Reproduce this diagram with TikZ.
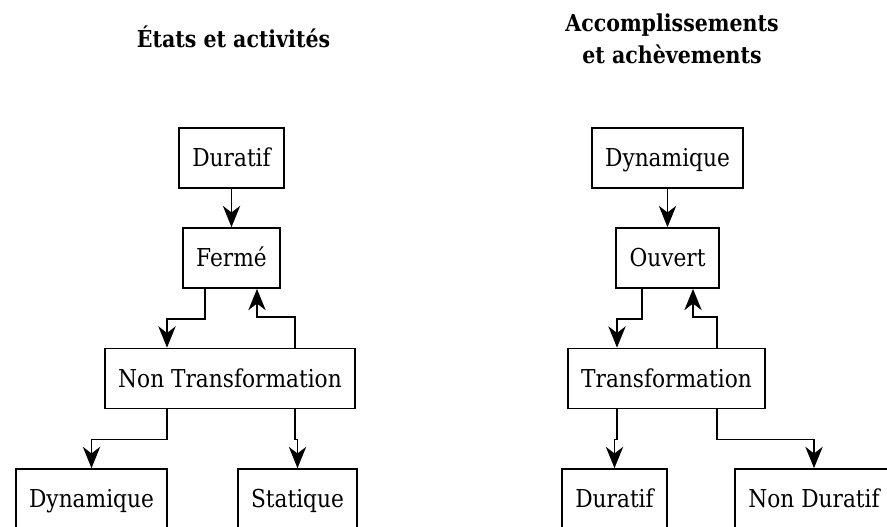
\documentclass[tikz,border=0pt]{standalone}
\usepackage{fontspec}
\setmainfont[FakeStretch=0.88]{DejaVu Serif}
\usepackage{tikz}
\usetikzlibrary{arrows.meta,positioning,calc}
\tikzstyle{box}=[rectangle, draw=black, line width=1.3pt, inner xsep=10pt, minimum height=45pt, text height=13.2pt, text depth=0pt, font=\fontsize{18.5}{22}\selectfont]
\tikzstyle{titre}=[align=center, inner sep=0pt, font=\fontsize{17.5}{24}\selectfont\bfseries]
\tikzstyle{fl}=[line width=1.3pt, -{Stealth[length=16pt, width=13pt, inset=5pt]}]

\begin{document}
\begin{tikzpicture}[x=0.75pt, y=-0.75pt]
        \useasboundingbox (0,0) rectangle (887,526);
        \clip (0,0) rectangle (887,526);
        % titres
        \node[titre, anchor=base] (t1) at (233.5,47) {États et activités};
        \node[titre, anchor=base] (t2) at (672,63) {Accomplissements\\et achèvements};
        %
        % gauche
        \node[box] (dur1) at (231.5,158) {Duratif};
        \node[box] (ferme) at (231.5,258) {Fermé};
        \node[box] (nontr) at (230,378.5) {Non Transformation};
        \node[box] (dyn1) at (91.5,499) {Dynamique};
        \node[box] (stat) at (297.5,499) {Statique};
        \draw[fl] (dur1) -- (ferme);
        \draw[fl] ($(ferme.south)+(-26.5,0)$) -- ++(0,30) -| ($(nontr.north)+(-63,0)$);
        \draw[fl] ($(nontr.north)+(65,0)$) -- ++(0,-31) -| ($(ferme.south)+(25.5,0)$);
        \draw[fl] ($(nontr.south)+(-63,0)$) -- ++(0,30) -| (dyn1.north);
        \draw[fl] ($(nontr.south)+(65,0)$) -- ++(0,30) -| (stat.north);
        %
        % droite
        \node[box] (dyn2) at (667.5,158) {Dynamique};
        \node[box] (ouvert) at (667.5,258) {Ouvert};
        \node[box] (transf) at (666.5,378.5) {Transformation};
        \node[box] (dur2) at (614.5,499) {Duratif};
        \node[box] (nondur) at (814,499) {Non Duratif};
        \draw[fl] (dyn2) -- (ouvert);
        \draw[fl] ($(ouvert.south)+(-25.5,0)$) -- ++(0,30) -| ($(transf.north)+(-49.5,0)$);
        \draw[fl] ($(transf.north)+(50.5,0)$) -- ++(0,-31) -| ($(ouvert.south)+(25.5,0)$);
        \draw[fl] ($(transf.south)+(-49.5,0)$) -- ++(0,30) -| (dur2.north);
        \draw[fl] ($(transf.south)+(50.5,0)$) -- ++(0,30) -| (nondur.north);
\end{tikzpicture}
\end{document}
